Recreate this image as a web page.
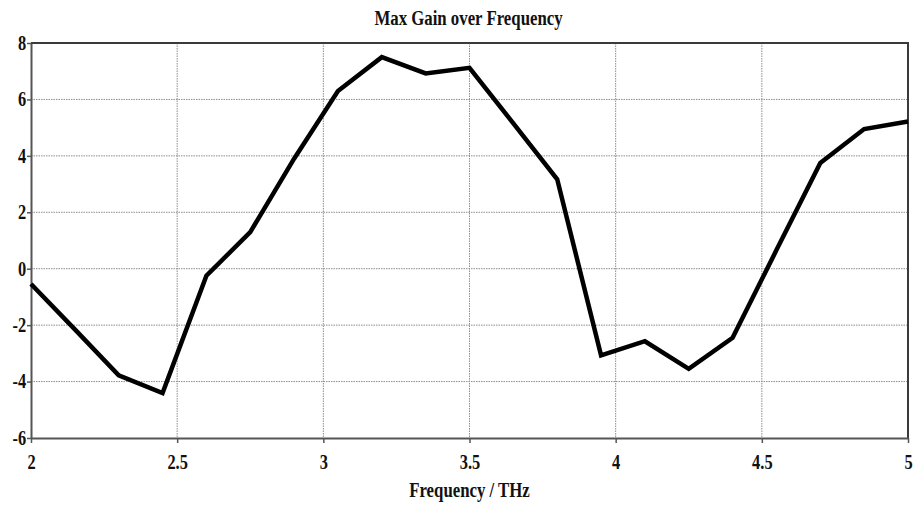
<!DOCTYPE html>
<html lang="en">
  <head>
    <meta charset="UTF-8" />
    <title>Max Gain over Frequency</title>
    <script src="https://d3js.org/d3.v7.min.js"></script>
    <style>
      html,
      body {
        margin: 0;
        padding: 0;
        background-color: white;
      }
      text {
        font-family: "Liberation Serif", "Times New Roman", serif;
        font-weight: bold;
        fill: #111;
      }
      .grid line {
        stroke: #8c8c8c;
        stroke-width: 1;
        stroke-dasharray: 1.5, 1;
      }
    </style>
  </head>
  <body>
    <svg id="chart"></svg>
    <script>
      // Frequency (THz) and max gain values
      const frequency = [
        2, 2.15, 2.3, 2.45, 2.6, 2.75, 2.9, 3.05, 3.2, 3.35, 3.5, 3.65, 3.8,
        3.95, 4.1, 4.25, 4.4, 4.55, 4.7, 4.85, 5,
      ];
      const maxGain = [
        -0.54, -2.15, -3.78, -4.41, -0.25, 1.3, 3.9, 6.3, 7.5, 6.92, 7.12,
        5.15, 3.17, -3.07, -2.57, -3.55, -2.45, 0.66, 3.75, 4.95, 5.22,
      ];
      const xTicks = [2, 2.5, 3, 3.5, 4, 4.5, 5];
      const yTicks = [-6, -4, -2, 0, 2, 4, 6, 8];

      const width = 916;
      const height = 506;
      const margin = { top: 43, right: 8, bottom: 68, left: 31 };

      const svg = d3
        .select("#chart")
        .attr("width", width)
        .attr("height", height);

      const x = d3
        .scaleLinear()
        .domain([2, 5])
        .range([margin.left, width - margin.right]);
      const y = d3
        .scaleLinear()
        .domain([-6, 8])
        .range([height - margin.bottom, margin.top]);

      // dotted grid
      const grid = svg.append("g").attr("class", "grid");
      grid
        .selectAll("line.v")
        .data(xTicks.slice(1, -1))
        .join("line")
        .attr("class", "v")
        .attr("x1", (d) => x(d))
        .attr("x2", (d) => x(d))
        .attr("y1", y(8))
        .attr("y2", y(-6));
      grid
        .selectAll("line.h")
        .data(yTicks.slice(1, -1))
        .join("line")
        .attr("class", "h")
        .attr("x1", x(2))
        .attr("x2", x(5))
        .attr("y1", (d) => y(d))
        .attr("y2", (d) => y(d));

      // top and right frame
      svg
        .append("path")
        .attr("d", `M${x(2)},${y(8)}H${x(5)}V${y(-6)}`)
        .attr("fill", "none")
        .attr("stroke", "#3a3a3a")
        .attr("stroke-width", 2);

      // axes
      const xAxis = svg
        .append("g")
        .attr("transform", `translate(0,${y(-6)})`)
        .call(
          d3
            .axisBottom(x)
            .tickValues(xTicks)
            .tickFormat(d3.format("~g"))
            .tickSize(5)
            .tickPadding(12)
            .tickSizeOuter(0)
        );
      const yAxis = svg
        .append("g")
        .attr("transform", `translate(${x(2)},0)`)
        .call(
          d3
            .axisLeft(y)
            .tickValues(yTicks)
            .tickFormat((d) => (d < 0 ? "-" + Math.abs(d) : d))
            .tickSize(4)
            .tickPadding(2)
            .tickSizeOuter(0)
        );

      [xAxis, yAxis].forEach((g) => {
        g.select(".domain").attr("stroke", "#555").attr("stroke-width", 2);
        g.selectAll(".tick line").attr("stroke", "#555").attr("stroke-width", 1.5);
        g.selectAll(".tick text")
          .attr("font-size", 20)
          .attr("fill", "#111")
          .attr("transform", "scale(0.82,1)");
      });

      // gain line
      const line = d3
        .line()
        .x((d, i) => x(frequency[i]))
        .y((d) => y(d));

      svg
        .append("path")
        .datum(maxGain)
        .attr("d", line)
        .attr("fill", "none")
        .attr("stroke", "black")
        .attr("stroke-width", 4.5)
        .attr("stroke-linejoin", "miter");

      // titles
      svg
        .append("text")
        .attr("transform", `translate(${x(3.5) - 1},25) scale(0.8,1)`)
        .attr("text-anchor", "middle")
        .attr("font-size", 21)
        .text("Max Gain over Frequency");

      svg
        .append("text")
        .attr("transform", `translate(${x(3.5)},497) scale(0.8,1)`)
        .attr("text-anchor", "middle")
        .attr("font-size", 21)
        .text("Frequency / THz");
    </script>
  </body>
</html>
